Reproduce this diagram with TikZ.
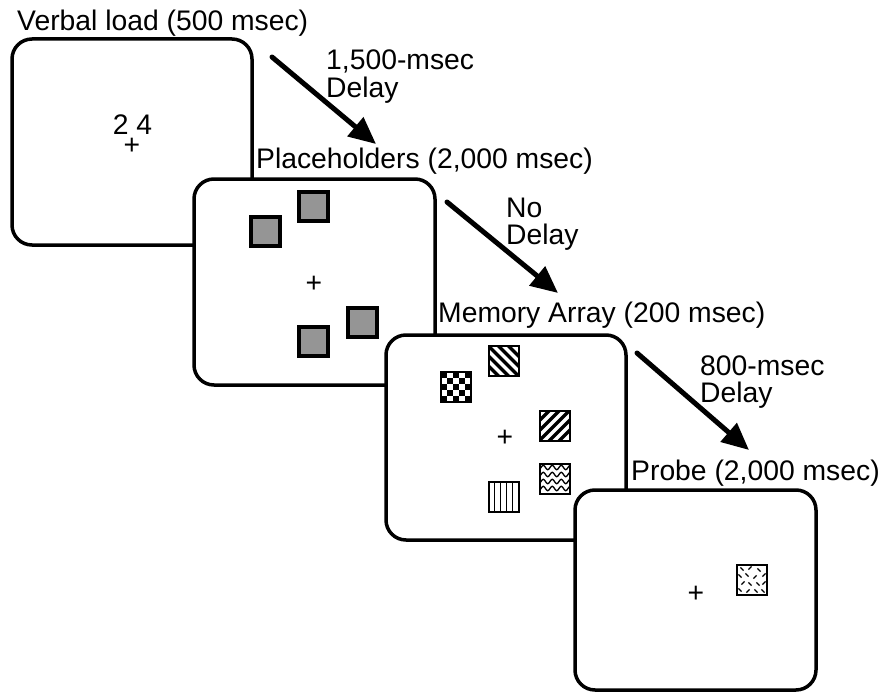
\documentclass[tikz,border=0pt]{standalone}
\usepackage{fontspec}
\setmainfont{Liberation Sans}
\usetikzlibrary{arrows.meta}
\definecolor{phgray}{HTML}{959595}
\begin{document}
\begin{tikzpicture}[x=1pt,y=-1pt,
  screen/.style={draw, fill=white, line width=3.5pt, rounded corners=20pt, inner sep=0pt},
  lbl/.style={anchor=base west, inner sep=0pt, font=\fontsize{28.3}{27}\selectfont},
  fix/.style={anchor=center, inner sep=0pt, font=\fontsize{28.3}{27}\selectfont},
  ph/.style={draw, fill=phgray, line width=4pt, minimum size=29pt, inner sep=0pt},
  item/.style={draw, fill=white, line width=2pt, minimum size=30pt, inner sep=0pt},
  delayarrow/.style={line width=5pt, line cap=round, -{Triangle[length=27pt,width=24pt]}},
  checker/.style={item, path picture={
    \begin{scope}[shift={(path picture bounding box.center)}]
      \foreach \i in {0,...,4}{\foreach \j in {0,...,4}{%
        \ifodd\numexpr\i+\j\relax\else\fill[black] (-15+\i*6,-15+\j*6) rectangle ++(6,6);\fi}}
    \end{scope}}},
  stripesdown/.style={item, path picture={
    \begin{scope}[shift={(path picture bounding box.center)}]
      \foreach \a in {-20,-10,0,10,20}{\draw[black, line width=3.5pt] (\a-20,-20) -- (\a+20,20);}
    \end{scope}}},
  stripesup/.style={item, path picture={
    \begin{scope}[shift={(path picture bounding box.center)}]
      \foreach \a in {-20,-10,0,10,20}{\draw[black, line width=3.5pt] (\a-20,20) -- (\a+20,-20);}
    \end{scope}}},
  wavy/.style={item, path picture={
    \begin{scope}[shift={(path picture bounding box.center)}]
      \foreach \yy in {-11,-4,3,10}{\draw[black, line width=1.3pt] plot[domain=-16:16,samples=33,smooth] (\x,{\yy+2.2*sin(\x*40)});}
    \end{scope}}},
  vlines/.style={item, path picture={
    \begin{scope}[shift={(path picture bounding box.center)}]
      \foreach \xx in {-9,-3,3,9}{\draw[black, line width=1.5pt] (\xx,-17) -- (\xx,17);}
    \end{scope}}},
  dashtex/.style={item, path picture={
    \begin{scope}[shift={(path picture bounding box.center)}]
      \foreach \px/\py/\dd in {-10/-11/1,-2/-12/-1,7/-10/1,12/-5/-1,-12/-4/1,-5/-5/1,3/-3/-1,
                               -9/3/-1,-2/4/1,6/4/1,12/3/-1,-12/10/1,-4/11/-1,4/11/1,11/11/1}{%
        \draw[black, line width=1.2pt] (\px-1.6,\py-1.6*\dd) -- (\px+1.6,\py+1.6*\dd);}
    \end{scope}}}
]
\useasboundingbox (0,0) rectangle (889,693);

% screens
\node[screen, minimum width=240pt, minimum height=206pt] (s1) at (132,142) {};
\node[fix] (n24) at (132.5,125) {2 4};
\node[fix] (f1) at (132,146) {+};

\node[screen, minimum width=241pt, minimum height=206pt] (s2) at (314.5,282) {};
\node[ph] (pA) at (265,231.5) {};
\node[ph] (pB) at (313,206.5) {};
\node[ph] (pC) at (362.5,322.5) {};
\node[ph] (pD) at (313,341) {};
\node[fix] (f2) at (314,284) {+};

\node[screen, minimum width=240pt, minimum height=205pt] (s3) at (506,437.5) {};
\node[checker] (m1) at (455.5,386.5) {};
\node[stripesdown] (m2) at (503.5,361) {};
\node[stripesup] (m3) at (554.5,425.5) {};
\node[wavy] (m4) at (554.5,478.5) {};
\node[vlines] (m5) at (503.5,497) {};
\node[fix] (f3) at (505,438) {+};

\node[screen, minimum width=241pt, minimum height=200pt] (s4) at (695.5,590) {};
\node[dashtex] (pr) at (752,580) {};
\node[fix] (f4) at (696,594) {+};

% labels
\node[lbl] (t1) at (17,31) {Verbal load (500 msec)};
\node[lbl] (d1a) at (326,70) {1,500-msec};
\node[lbl] (d1b) at (326,97) {Delay};
\node[lbl] (t2) at (256,168) {Placeholders (2,000 msec)};
\node[lbl] (d2a) at (506,217) {No};
\node[lbl] (d2b) at (506,244) {Delay};
\node[lbl] (t3) at (438,322) {Memory Array (200 msec)};
\node[lbl] (d3a) at (700,375) {800-msec};
\node[lbl] (d3b) at (700,402) {Delay};
\node[lbl] (t4) at (631,480) {Probe (2,000 msec)};

% arrows
\coordinate (a1s) at (272,57);
\coordinate (a1e) at (376,144);
\coordinate (a2s) at (447,202);
\coordinate (a2e) at (558,293);
\coordinate (a3s) at (637,353);
\coordinate (a3e) at (749,450);
\draw[delayarrow] (a1s) -- (a1e);
\draw[delayarrow] (a2s) -- (a2e);
\draw[delayarrow] (a3s) -- (a3e);
\end{tikzpicture}
\end{document}
